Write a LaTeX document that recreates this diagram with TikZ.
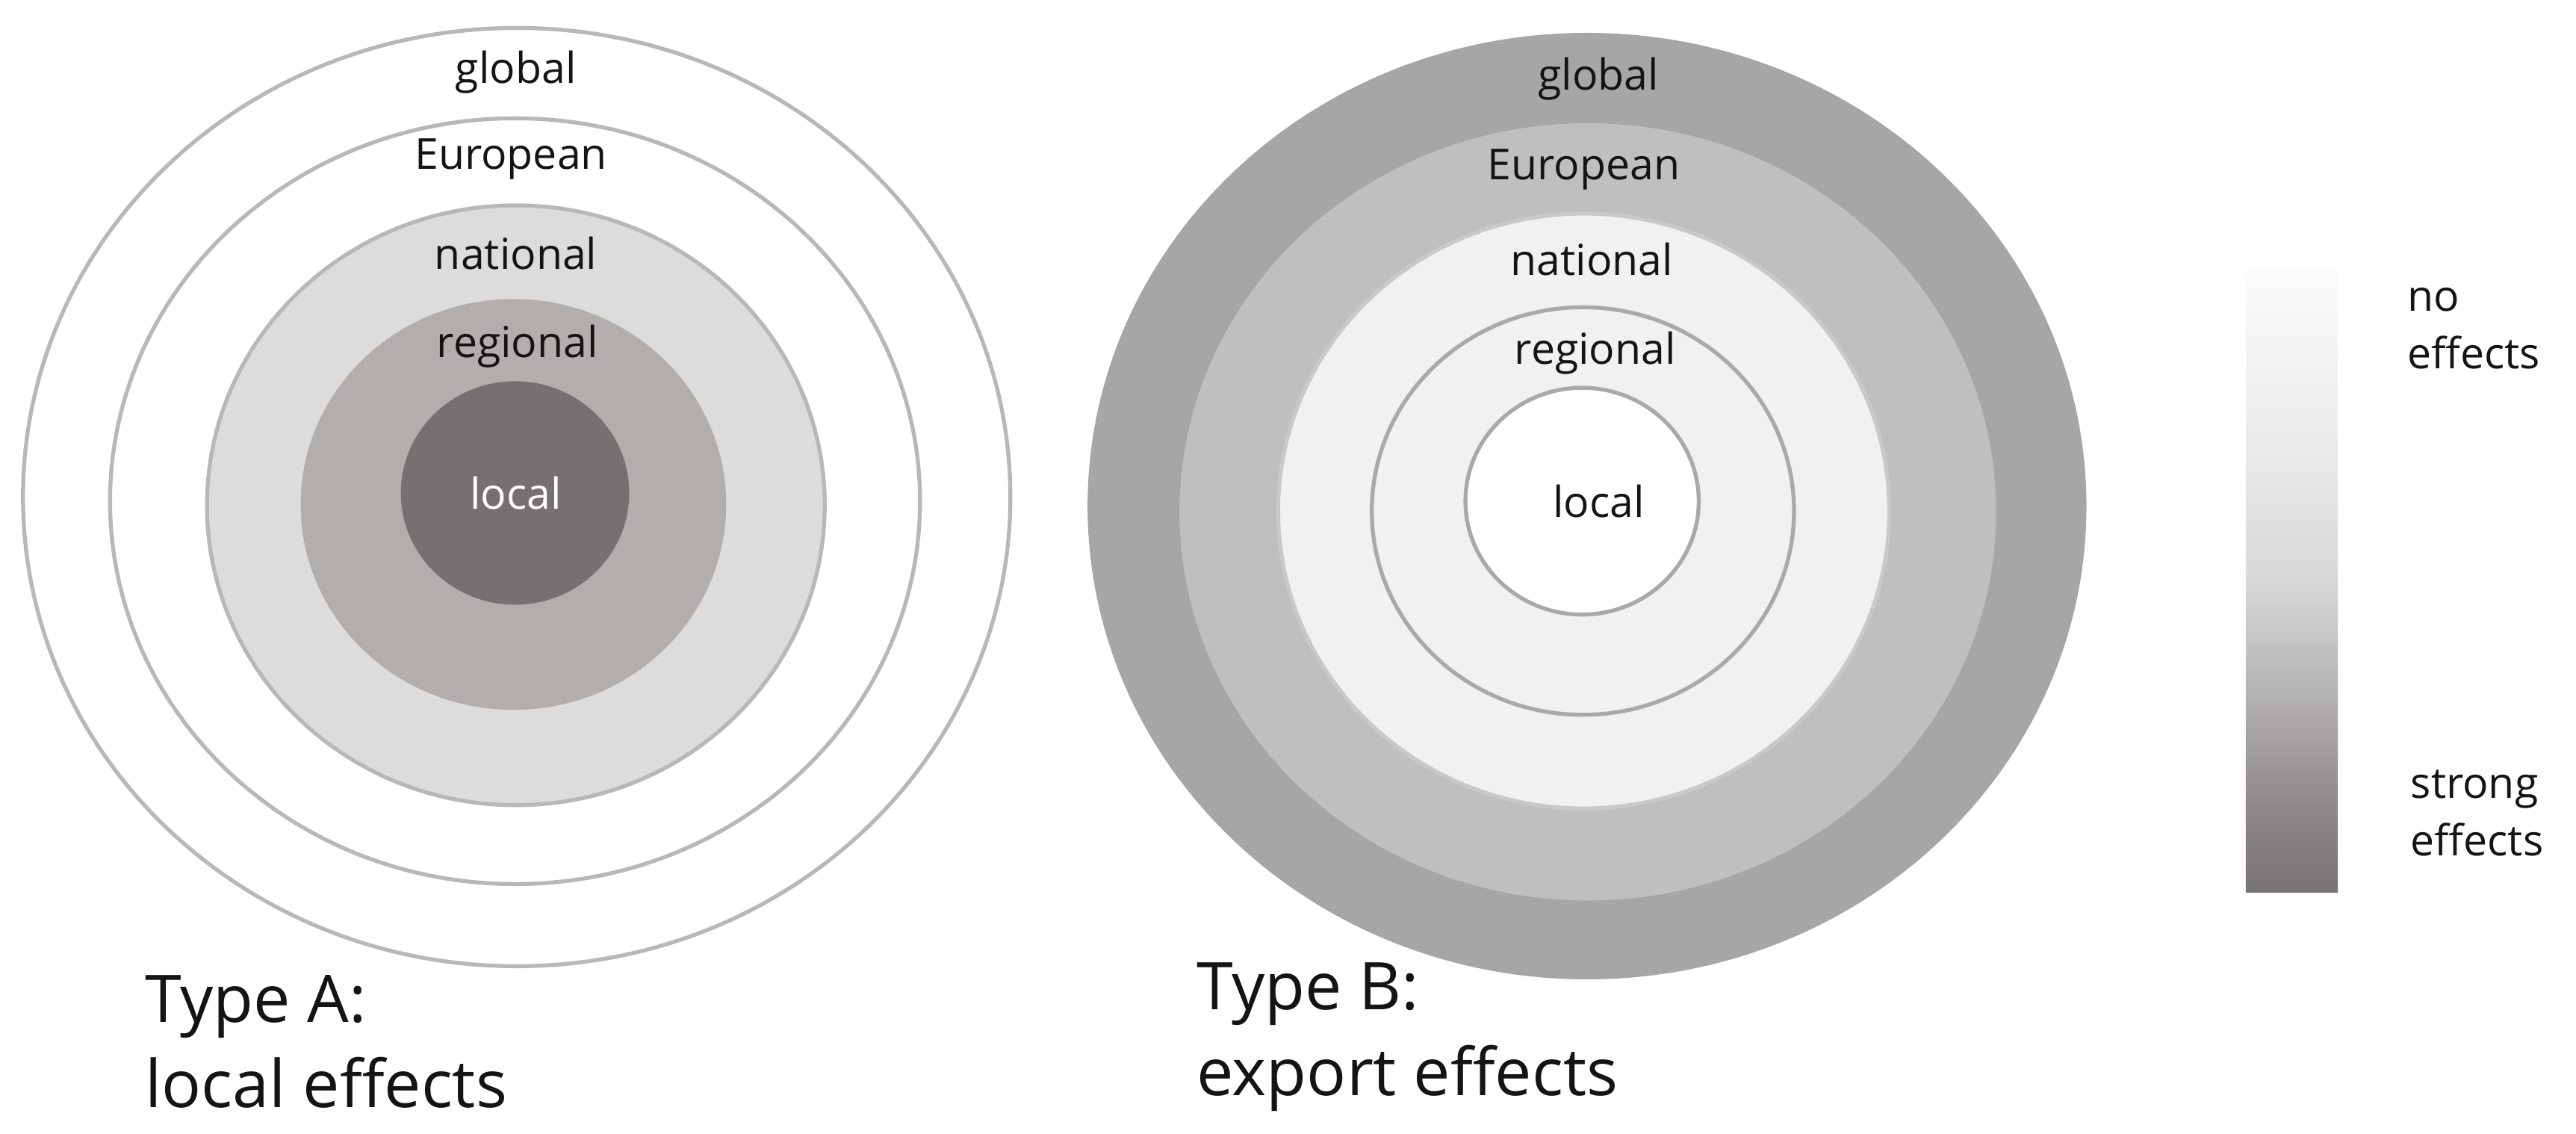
\documentclass[tikz,border=0pt]{standalone}
\usepackage{fontspec}
\setmainfont{Open Sans}
\usetikzlibrary{shapes.geometric}
\definecolor{ringline}{HTML}{B8B8B8}
\definecolor{Anat}{HTML}{DCDCDC}
\definecolor{Areg}{HTML}{B2AEAC}
\definecolor{Aloc}{HTML}{767071}
\definecolor{Bglob}{HTML}{A6A6A6}
\definecolor{Beur}{HTML}{BFBFBF}
\definecolor{Bnat}{HTML}{F1F1F1}
\definecolor{Bline}{HTML}{A9A9A9}
\definecolor{txt}{HTML}{141414}
\definecolor{barA}{HTML}{787373}
\definecolor{barB}{HTML}{8E8A8A}
\definecolor{barC}{HTML}{B5B2B2}
\definecolor{barD}{HTML}{D9D8D8}
\definecolor{barE}{HTML}{EBEBEB}
\definecolor{barF}{HTML}{FCFCFC}
\pgfdeclareverticalshading{effectbar}{100bp}{color(0bp)=(barA); color(25bp)=(barA); color(32bp)=(barB); color(41bp)=(barC); color(50bp)=(barD); color(61bp)=(barE); color(75bp)=(barF); color(100bp)=(barF)}
\tikzset{
  ring/.style={ellipse, inner sep=0pt, outer sep=0pt, line width=1.2pt},
  lab/.style={font=\fontsize{13}{15}\selectfont, text=txt, inner sep=0pt},
  title/.style={font=\fontsize{20}{26}\selectfont, text=txt, align=left, anchor=west, inner sep=0pt},
  legend/.style={font=\fontsize{13}{17.5}\selectfont, text=txt, align=left, anchor=west, inner sep=0pt}
}
\begin{document}
\begin{tikzpicture}[x=0.5pt,y=-0.5pt]
\useasboundingbox (0,0) rectangle (1568,690);
% Type A
\node[ring, draw=ringline, fill=white, minimum width=300.5pt, minimum height=285.5pt] (Aglob) at (314.5,302.5) {};
\node[ring, draw=ringline, fill=white, minimum width=246.5pt, minimum height=233pt] (Aeur) at (313.5,305) {};
\node[ring, draw=ringline, fill=Anat, minimum width=188pt, minimum height=182.5pt] (Anatl) at (314,307.5) {};
\node[ring, fill=Areg, minimum width=129.5pt, minimum height=125pt] (Aregl) at (312.5,307) {};
\node[ring, fill=Aloc, minimum width=69.5pt, minimum height=68pt] (Alocl) at (313.5,300) {};
\node[lab] (tAglob) at (314,44) {global};
\node[lab] (tAeur) at (311,97) {European};
\node[lab] (tAnat) at (314,154) {national};
\node[lab] (tAreg) at (315,211) {regional};
\node[lab, text=white] (tAloc) at (314,300) {local};
\node[title] (typeA) at (88,634) {Type A:\\local effects};
% Type B
\node[ring, fill=Bglob, minimum width=304pt, minimum height=288pt] (Bglobl) at (966,308) {};
\node[ring, fill=Beur, minimum width=248.5pt, minimum height=236.5pt] (Beurl) at (966.5,311.5) {};
\node[ring, draw=Beur!85!white, fill=Bnat, minimum width=186pt, minimum height=181pt] (Bnatl) at (964,311) {};
\node[ring, draw=Bline, fill=Bnat, minimum width=128.5pt, minimum height=124pt] (Bregl) at (963.5,311) {};
\node[ring, draw=Bline, fill=white, minimum width=71pt, minimum height=69pt] (Blocl) at (963,305) {};
\node[lab] (tBglob) at (973,48) {global};
\node[lab] (tBeur) at (964,103) {European};
\node[lab] (tBnat) at (969,158) {national};
\node[lab] (tBreg) at (971,215) {regional};
\node[lab] (tBloc) at (973,305) {local};
\node[title] (typeB) at (728,631) {Type B:\\export effects};
% legend bar
\node[rectangle, inner sep=0pt, shading=effectbar, minimum width=28pt, minimum height=190pt] (bar) at (1395,353) {};
\node[legend] (noeff) at (1465,200) {no\\effects};
\node[legend] (strongeff) at (1467,495) {strong\\effects};
\end{tikzpicture}
\end{document}
